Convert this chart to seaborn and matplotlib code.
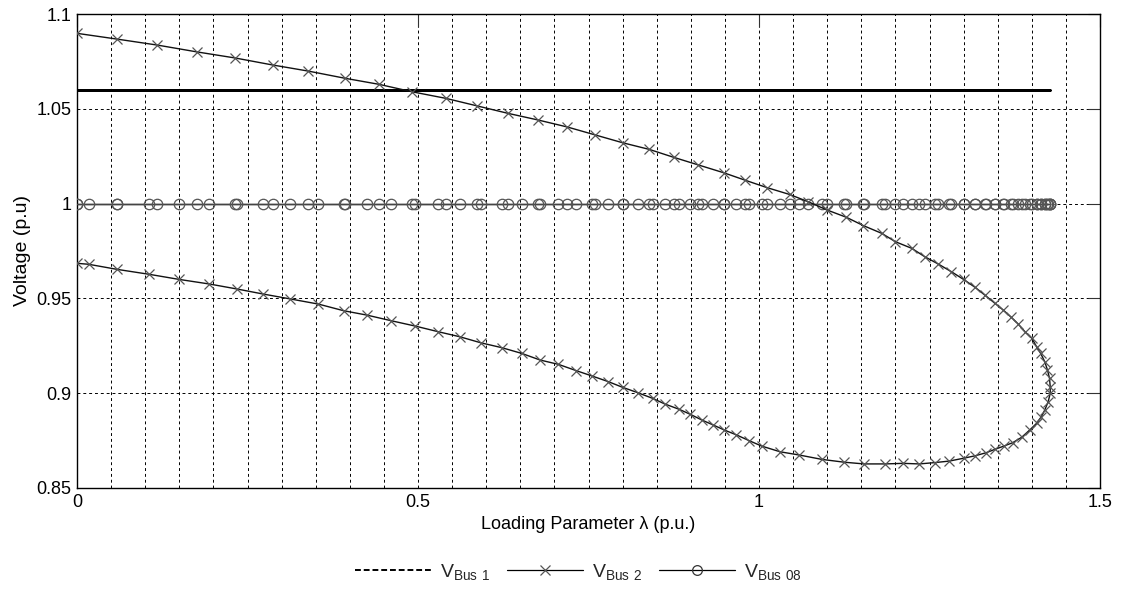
import numpy as np
import pandas as pd
import matplotlib
matplotlib.use("Agg")
import matplotlib.pyplot as plt
from matplotlib.lines import Line2D
from matplotlib.ticker import MultipleLocator
import seaborn as sns

# Continuation path (loading parameter, p.u.)
lam = [0.000, 0.058, 0.118, 0.176, 0.232, 0.287, 0.339, 0.393, 0.443, 0.491,
       0.541, 0.587, 0.632, 0.676, 0.719, 0.760, 0.800, 0.839, 0.875, 0.911,
       0.948, 0.980, 1.012, 1.045, 1.072, 1.100, 1.128, 1.153, 1.180, 1.200,
       1.224, 1.243, 1.263, 1.282, 1.300, 1.317, 1.331, 1.346, 1.358, 1.370,
       1.380, 1.390, 1.400, 1.407, 1.413, 1.419, 1.423, 1.426, 1.427, 1.427,
       1.424, 1.419, 1.414, 1.407, 1.397, 1.385, 1.372, 1.359, 1.346, 1.333,
       1.317, 1.300, 1.279, 1.258, 1.235, 1.211, 1.185, 1.154, 1.125, 1.092,
       1.059, 1.031, 1.004, 0.986, 0.967, 0.949, 0.933, 0.916, 0.899, 0.883,
       0.862, 0.844, 0.822, 0.800, 0.779, 0.755, 0.732, 0.706, 0.679, 0.652,
       0.623, 0.592, 0.561, 0.530, 0.496, 0.461, 0.425, 0.391, 0.354, 0.313,
       0.273, 0.234, 0.194, 0.150, 0.106, 0.059, 0.017, 0.000]

v_bus2 = [1.0898, 1.0868, 1.0836, 1.0800, 1.0768, 1.0731, 1.0699, 1.0661, 1.0629, 1.0590,
          1.0555, 1.0515, 1.0476, 1.0441, 1.0404, 1.0362, 1.0321, 1.0286, 1.0244, 1.0204,
          1.0163, 1.0123, 1.0084, 1.0048, 1.0010, 0.9966, 0.9928, 0.9884, 0.9843, 0.9799,
          0.9764, 0.9720, 0.9681, 0.9641, 0.9600, 0.9558, 0.9518, 0.9474, 0.9439, 0.9400,
          0.9365, 0.9324, 0.9290, 0.9245, 0.9210, 0.9166, 0.9122, 0.9078, 0.9034, 0.8999,
          0.8955, 0.8911, 0.8876, 0.8841, 0.8806, 0.8767, 0.8739, 0.8721, 0.8704, 0.8686,
          0.8670, 0.8657, 0.8642, 0.8634, 0.8627, 0.8630, 0.8627, 0.8627, 0.8636, 0.8651,
          0.8674, 0.8691, 0.8721, 0.8749, 0.8780, 0.8806, 0.8832, 0.8859, 0.8889, 0.8915,
          0.8943, 0.8973, 0.9003, 0.9031, 0.9061, 0.9091, 0.9119, 0.9152, 0.9175, 0.9210,
          0.9240, 0.9266, 0.9298, 0.9324, 0.9354, 0.9382, 0.9412, 0.9435, 0.9470, 0.9497,
          0.9523, 0.9550, 0.9576, 0.9600, 0.9627, 0.9653, 0.9680, 0.9685]

v_bus1 = [1.06] * len(lam)
v_bus08 = [1.00] * len(lam)

legend_labels = [r"$\mathregular{V_{Bus\ 1}}$", r"$\mathregular{V_{Bus\ 2}}$",
                 r"$\mathregular{V_{Bus\ 08}}$"]
x_ticks = [0, 0.5, 1, 1.5]
y_ticks = [0.85, 0.9, 0.95, 1.0, 1.05, 1.1]
y_tick_labels = ["0.85", "0.9", "0.95", "1", "1.05", "1.1"]
x_tick_labels = ["0", "0.5", "1", "1.5"]

sns.set_theme(style="white")
plt.rcParams["font.family"] = ["Liberation Sans", "DejaVu Sans"]
plt.rcParams["mathtext.fontset"] = "custom"
plt.rcParams["mathtext.rm"] = "Liberation Sans"

fig = plt.figure(figsize=(11.23, 5.94), dpi=100)
ax = fig.add_axes([77 / 1123, 1 - 488 / 594, (1100 - 77) / 1123, (488 - 14) / 594])

df = pd.DataFrame({"lam": lam, "v1": v_bus1, "v2": v_bus2, "v8": v_bus08})

sns.lineplot(data=df, x="lam", y="v1", sort=False, estimator=None, ax=ax,
             color="black", linewidth=1.8, zorder=3)
sns.lineplot(data=df, x="lam", y="v8", sort=False, estimator=None, ax=ax,
             color="#444444", linewidth=1.0, marker="o", markersize=7.5,
             markerfacecolor="none", markeredgecolor="#555555",
             markeredgewidth=0.9, zorder=3)
sns.lineplot(data=df, x="lam", y="v2", sort=False, estimator=None, ax=ax,
             color="#111111", linewidth=1.0, marker="x", markersize=7,
             markeredgecolor="#555555", markeredgewidth=0.9, zorder=4)

ax.set_xlim(0, 1.5)
ax.set_ylim(0.85, 1.1)
ax.set_xticks(x_ticks)
ax.set_xticklabels(x_tick_labels)
ax.set_yticks(y_ticks)
ax.set_yticklabels(y_tick_labels)
ax.xaxis.set_minor_locator(MultipleLocator(0.05))

ax.tick_params(which="major", direction="in", length=9, width=0.8, color="#333333",
               top=True, right=True, labelsize=13, pad=4, labelcolor="black")
ax.tick_params(which="minor", length=0)

ax.grid(False)
ax.xaxis.grid(True, which="both", linestyle=(0, (3, 3)), color="black", linewidth=0.7)
ax.yaxis.grid(True, which="major", linestyle=(0, (3, 3)), color="black", linewidth=0.7)
ax.set_axisbelow(True)

for s in ax.spines.values():
    s.set_visible(True)
    s.set_color("black")
    s.set_linewidth(1.0)

ax.set_xlabel("Loading Parameter λ (p.u.)", fontsize=13, color="black", labelpad=4)
ax.set_ylabel("Voltage (p.u)", fontsize=14, color="black", labelpad=4)

handles = [
    Line2D([], [], color="black", linestyle=(0, (3, 1.5)), linewidth=1.4),
    Line2D([], [], color="black", linewidth=0.9, marker="x", markersize=7,
           markeredgecolor="#555555", markeredgewidth=0.9),
    Line2D([], [], color="black", linewidth=0.9, marker="o", markersize=7,
           markerfacecolor="none", markeredgecolor="#333333", markeredgewidth=0.9),
]
fig.legend(handles, legend_labels, loc="center", bbox_to_anchor=(0.515, 0.037),
           ncol=3, frameon=False, fontsize=14, handlelength=3.9, handletextpad=0.45,
           columnspacing=0.9, numpoints=1)

fig.savefig("out.png", dpi=100)
